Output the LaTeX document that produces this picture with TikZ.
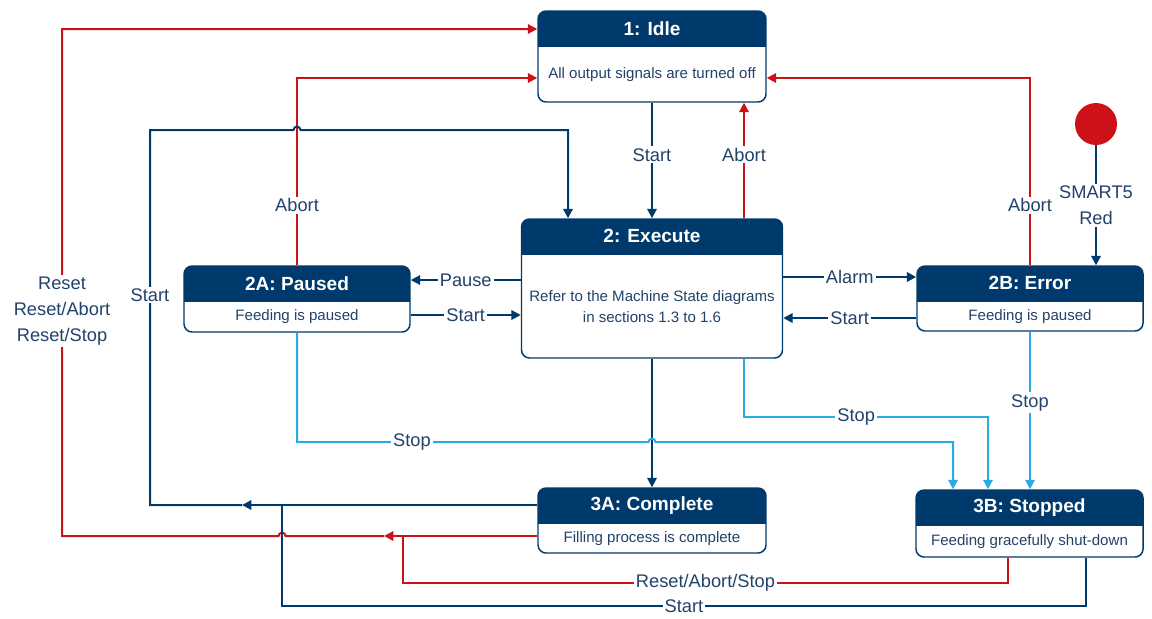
\documentclass[tikz,border=0pt]{standalone}
\usepackage{fontspec}
\setmainfont{Liberation Sans}
\usetikzlibrary{arrows.meta,calc}
\definecolor{ThemeNavy}{RGB}{0,57,107}
\definecolor{TextNavy}{RGB}{35,66,106}
\definecolor{AccentRed}{RGB}{204,18,24}
\definecolor{AccentCyan}{RGB}{41,172,228}

\tikzset{
  statebox/.style={draw=ThemeNavy, line width=1.1pt, rounded corners=6pt, fill=white, inner sep=0pt,
    path picture={\fill[ThemeNavy, sharp corners] (path picture bounding box.north west)
      rectangle ([yshift=-27pt]path picture bounding box.north east);}},
  statetitle/.style={text=white, font=\bfseries\fontsize{14.3}{16}\selectfont, inner sep=0pt},
  statetext/.style={text=TextNavy, font=\fontsize{11.3}{15.8}\selectfont, align=center, inner sep=0pt},
  lbl/.style={fill=white, text=TextNavy, font=\fontsize{13.7}{19.5}\selectfont, align=center, inner sep=1.5pt},
  navline/.style={draw=ThemeNavy, line width=1.5pt},
  redline/.style={draw=AccentRed, line width=1.5pt},
  cyanline/.style={draw=AccentCyan, line width=1.5pt}
}

\begin{document}
\begin{tikzpicture}[x=0.75pt, y=-0.75pt, >={Triangle[length=7pt,width=7pt]}]
  \useasboundingbox (0,0) rectangle (1152,618);

  % States
  \foreach \s/\cx/\cy/\w/\h/\ttl/\txt in {
      idle/652/56.5/228/91/{1: Idle}/{All output signals are turned off},
      exec/652/288.5/261/139/{2: Execute}/{Refer to the Machine State diagrams\\in sections 1.3 to 1.6},
      paused/297/299/226/66/{2A: Paused}/{Feeding is paused},
      error/1030/298.5/226/65/{2B: Error}/{Feeding is paused},
      complete/652/520.5/228/65/{3A: Complete}/{Filling process is complete},
      stopped/1029.5/523.5/227/67/{3B: Stopped}/{Feeding gracefully shut-down}} {
    \node[statebox, minimum width=\w*0.75pt, minimum height=\h*0.75pt] (\s) at (\cx,\cy) {};
    \node[statetitle] (\s-title) at ([yshift=-13.5pt]\s.north) {\ttl};
    \node[statetext] (\s-text) at ([yshift=-13.5pt]\s.center) {\txt};
  }

  % SMART5 lamp
  \node[circle, fill=AccentRed, minimum size=31.5pt, inner sep=0pt] (lamp) at (1096,124) {};

  \coordinate (startjoin) at (282,505);
  \coordinate (resetjoin) at (403,536);

  % Idle <-> Execute
  \draw[navline, ->] (idle.south) -- node[lbl, pos=0.45] {Start} (exec.north);
  \draw[redline, ->] (exec.north -| 744,0) -- node[lbl, pos=0.55] {Abort} (idle.south -| 744,0);

  % Abort back to Idle
  \draw[redline, ->] (error.north) |- node[lbl, pos=0.16] {Abort} (idle.east |- 0,78);
  \draw[redline, ->] (paused.north) |- node[lbl, pos=0.16] {Abort} (idle.west |- 0,78);

  % Execute <-> Paused / Error
  \draw[navline, ->] (exec.west |- 0,280) -- node[lbl] {Pause} (paused.east |- 0,280);
  \draw[navline, ->] (paused.east |- 0,315) -- node[lbl] {Start} (exec.west |- 0,315);
  \draw[navline, ->] (exec.east |- 0,277) -- node[lbl] {Alarm} (error.west |- 0,277);
  \draw[navline, ->] (error.west |- 0,318) -- node[lbl] {Start} (exec.east |- 0,318);
  \draw[navline, ->] (lamp.south) -- node[lbl] {SMART5\\Red} (error.north -| lamp.south);

  % Execute -> Complete
  \draw[navline, ->] (exec.south) -- (complete.north);

  % Stop paths
  \draw[cyanline, ->] (paused.south) -- (297,442) -- node[lbl, pos=0.327] {Stop} (648.5,442)
    arc[start angle=180, end angle=0, radius=2.6pt] -- (953,442) -- (stopped.north -| 953,0);
  \draw[cyanline, ->] (exec.south -| 744,0) |- node[lbl, pos=0.73] {Stop} (988,417) -- (stopped.north -| 988,0);
  \draw[cyanline, ->] (error.south) -- node[lbl, pos=0.45] {Stop} (stopped.north -| error.south);

  % Reset back to Idle
  \draw[redline, ->] (complete.west |- resetjoin) -- (384,536);
  \draw[redline, ->] (384,536) -- (285.5,536) arc[start angle=0, end angle=180, radius=2.6pt]
    -- (62,536) |- node[lbl, pos=0.222] {Reset\\Reset/Abort\\Reset/Stop} (idle.west |- 0,29);
  \draw[redline] (stopped.south -| 1008,0) |- node[lbl, pos=0.75] {Reset/Abort/Stop} (resetjoin |- 0,583) -- (resetjoin);

  % Start back to Execute
  \draw[navline, ->] (complete.west |- startjoin) -- (242,505);
  \draw[navline, ->] (242,505) -- (150,505) |- node[lbl, pos=0.28] {Start} (293.5,130)
    arc[start angle=180, end angle=0, radius=2.6pt] -- (568,130) -- (exec.north -| 568,0);
  \draw[navline] (stopped.south -| 1086,0) |- node[lbl, pos=0.75] {Start} (startjoin |- 0,606) -- (startjoin);
\end{tikzpicture}
\end{document}
